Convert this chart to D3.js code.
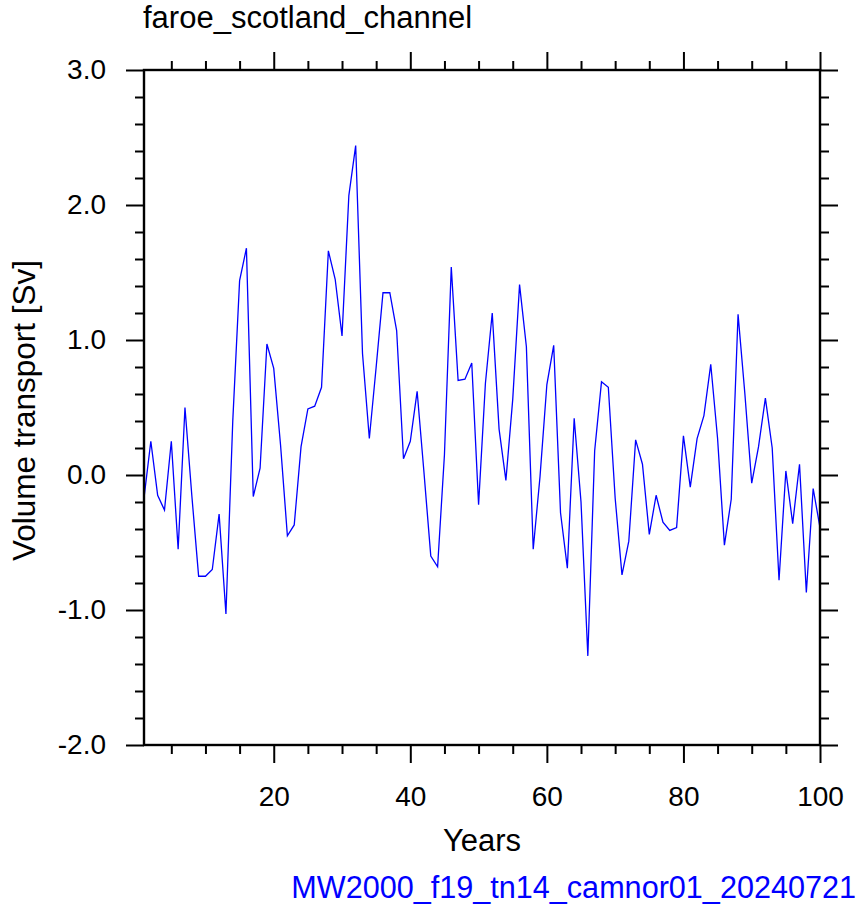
<!DOCTYPE html>
<html>
<head>
<meta charset="utf-8">
<script src="https://cdn.jsdelivr.net/npm/d3@7"></script>
<style>
  body { margin: 0; background: #fff; }
  svg text { font-family: "Liberation Sans", Arial, Helvetica, sans-serif; fill: #000; }
</style>
</head>
<body>
<div id="container"></div>
<script>
// volume transport time series, faroe-scotland channel

const years = d3.range(1, 101)
const transport = [
  -0.17, 0.25, -0.15, -0.26, 0.25, -0.55, 0.50, -0.15, -0.75, -0.75,
  -0.70, -0.29, -1.03, 0.40, 1.44, 1.68, -0.16, 0.05, 0.97, 0.79,
  0.22, -0.45, -0.37, 0.21, 0.49, 0.51, 0.65, 1.66, 1.45, 1.03,
  2.07, 2.44, 0.90, 0.27, 0.80, 1.35, 1.35, 1.07, 0.12, 0.25,
  0.62, 0.02, -0.60, -0.68, 0.15, 1.54, 0.70, 0.71, 0.83, -0.22,
  0.68, 1.20, 0.34, -0.04, 0.56, 1.41, 0.95, -0.55, -0.01, 0.67,
  0.96, -0.28, -0.69, 0.42, -0.20, -1.34, 0.18, 0.69, 0.65, -0.17,
  -0.74, -0.49, 0.26, 0.08, -0.44, -0.15, -0.35, -0.41, -0.39, 0.29,
  -0.09, 0.27, 0.44, 0.82, 0.27, -0.52, -0.18, 1.19, 0.60, -0.06,
  0.21, 0.57, 0.20, -0.78, 0.03, -0.36, 0.08, -0.87, -0.10, -0.39
]
const xMajor = [20, 40, 60, 80, 100]
const xMinor = d3.range(5, 100, 5).filter(v => v % 20 !== 0)
const yMajor = [-2, -1, 0, 1, 2, 3]
const yMinor = d3.range(-18, 30, 2).map(v => v / 10).filter(v => Math.abs(v - Math.round(v)) > 1e-6)

const title = "faroe_scotland_channel"
const xTitle = "Years"
const yTitle = "Volume transport [Sv]"
const caseName = "MW2000_f19_tn14_camnor01_20240721"

const width = 858,
    height = 911
const box = { left: 144, right: 820, top: 70, bottom: 745 }
const fs = 28

const svg = d3.select("#container")
    .append("svg")
    .attr("width", width)
    .attr("height", height)

const x = d3.scaleLinear().domain([1, 100]).range([box.left, box.right])
const y = d3.scaleLinear().domain([-2, 3]).range([box.bottom, box.top])

// ncl style labels use a plain hyphen
const yFmt = v => d3.format(".1f")(v).replace("\u2212", "-")

function addAxis(axisFn, scale, values, size, labels, pad, tr) {
    let ax = axisFn(scale).tickValues(values).tickSize(size).tickSizeOuter(0).tickPadding(pad)
    if (labels) ax.tickFormat(labels)
    else ax.tickFormat("")
    let g = svg.append("g").attr("transform", tr).call(ax)
    g.select(".domain").remove()
    g.selectAll("line").attr("stroke", "#000").attr("stroke-width", 2)
    g.selectAll("text").attr("font-size", fs).attr("font-family", "Liberation Sans, Arial, sans-serif")
    return g
}

// minor ticks first, then majors with labels
addAxis(d3.axisBottom, x, xMinor, 9, null, 0, `translate(0,${box.bottom})`)
addAxis(d3.axisBottom, x, xMajor, 18, d3.format("d"), 23, `translate(0,${box.bottom})`)
addAxis(d3.axisTop, x, xMinor, 9, null, 0, `translate(0,${box.top})`)
addAxis(d3.axisTop, x, xMajor, 18, null, 0, `translate(0,${box.top})`)
addAxis(d3.axisLeft, y, yMinor, 9, null, 0, `translate(${box.left},0)`)
addAxis(d3.axisLeft, y, yMajor, 18, yFmt, 20, `translate(${box.left},0)`)
addAxis(d3.axisRight, y, yMinor, 9, null, 0, `translate(${box.right},0)`)
addAxis(d3.axisRight, y, yMajor, 18, null, 0, `translate(${box.right},0)`)

const line = d3.line()
    .x((d, i) => x(years[i]))
    .y(d => y(d))

svg.append("path")
    .datum(transport)
    .attr("d", line)
    .attr("fill", "none")
    .attr("stroke", "#0000ff")
    .attr("stroke-width", 1.3)

svg.append("rect")
    .attr("x", box.left)
    .attr("y", box.top)
    .attr("width", box.right - box.left)
    .attr("height", box.bottom - box.top)
    .attr("fill", "none")
    .attr("stroke", "#000")
    .attr("stroke-width", 2.4)

svg.append("text")
    .attr("x", box.left - 1)
    .attr("y", 28)
    .attr("font-size", 31)
    .text(title)

svg.append("text")
    .attr("x", (box.left + box.right) / 2)
    .attr("y", 851)
    .attr("text-anchor", "middle")
    .attr("font-size", 31)
    .text(xTitle)

svg.append("text")
    .attr("transform", `translate(35,${(box.top + box.bottom) / 2 + 3}) rotate(-90)`)
    .attr("text-anchor", "middle")
    .attr("font-size", 31.5)
    .text(yTitle)

svg.append("text")
    .attr("x", 856)
    .attr("y", 898)
    .attr("text-anchor", "end")
    .attr("font-size", 30.6)
    .style("fill", "#0000ff")
    .text(caseName)
</script>
</body>
</html>
